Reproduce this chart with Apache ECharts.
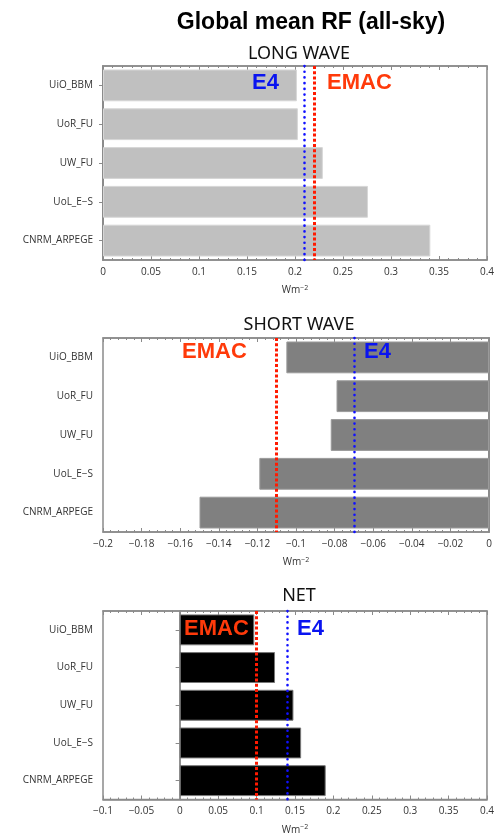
<!DOCTYPE html>
<html>
<head>
<meta charset="utf-8">
<script src="https://cdn.jsdelivr.net/npm/echarts@6/dist/echarts.min.js"></script>
<style>html,body{margin:0;padding:0;background:#fff}#c{width:497px;height:836px}</style>
</head>
<body>
<div id="c"></div>
<script>
// ---- data ----
const categories = ['UiO_BBM', 'UoR_FU', 'UW_FU', 'UoL_E\u2212S', 'CNRM_ARPEGE'];
const longWave = [0.202, 0.203, 0.229, 0.276, 0.341];
const shortWave = [-0.105, -0.079, -0.082, -0.119, -0.150];
const netRF = [0.097, 0.124, 0.148, 0.158, 0.190];
const refE4 = { lw: 0.208, sw: -0.070, net: 0.138 };
const refEMAC = { lw: 0.217, sw: -0.109, net: 0.102 };
const panelTitles = ['LONG WAVE', 'SHORT WAVE', 'NET'];
const xRanges = [[0, 0.4, 0.05], [-0.2, 0, 0.02], [-0.1, 0.4, 0.05]];
const mainTitle = 'Global mean RF (all-sky)';

const chart = echarts.init(document.getElementById('c'), null, { renderer: 'canvas' });
const gridTops = [66, 338, 611];
const gridH = 194;
const frame = '#8a8a8a';
const txt = '#333';
const tickFont = 'Open Sans';

const grids = gridTops.map(t => ({ left: 103, width: 386, top: t, height: gridH, show: true, borderColor: frame, borderWidth: 1.5, backgroundColor: '#fff' }));

const xAxes = [], yAxes = [];
xRanges.forEach((r, i) => {
  xAxes.push({
    type: 'value', gridIndex: i, min: r[0], max: r[1], interval: r[2], position: 'bottom',
    axisLine: { show: true, lineStyle: { color: frame, width: 1.5 } },
    axisTick: { show: true, inside: true, length: 4, lineStyle: { color: frame } },
    minorTick: { show: true, splitNumber: 5, length: 2, lineStyle: { color: frame } },
    splitLine: { show: false },
    axisLabel: { color: txt, fontSize: 10, fontFamily: tickFont, margin: 7,
      formatter: v => String(+v.toFixed(4)).replace('-', '\u2212') },
    name: 'Wm{s|\u22122}', nameLocation: 'middle', nameGap: 24,
    nameTextStyle: { color: txt, fontSize: 10, fontFamily: tickFont, rich: { s: { fontSize: 7, verticalAlign: 'top', padding: [0, 0, 6, 0], color: txt, fontFamily: tickFont } } }
  });
  xAxes.push({
    type: 'value', gridIndex: i, min: r[0], max: r[1], interval: r[2], position: 'top',
    axisLine: { show: true, lineStyle: { color: frame, width: 1.5 } },
    axisTick: { show: true, inside: true, length: 4, lineStyle: { color: frame } },
    minorTick: { show: true, splitNumber: 5, length: 2, lineStyle: { color: frame } },
    splitLine: { show: false }, axisLabel: { show: false }
  });
  yAxes.push({
    type: 'category', gridIndex: i, data: categories, inverse: true, position: 'left',
    axisLine: { show: true, lineStyle: { color: frame, width: 1.5 } },
    axisTick: { show: true, alignWithLabel: true, length: 4, lineStyle: { color: frame } },
    axisLabel: { color: txt, fontSize: 10, fontFamily: tickFont, margin: 10 }
  });
  yAxes.push({
    type: 'category', gridIndex: i, data: categories, inverse: true, position: 'right',
    axisLine: { show: true, lineStyle: { color: frame, width: 1.5 } },
    axisTick: { show: true, inside: true, alignWithLabel: true, length: 4, lineStyle: { color: frame } },
    axisLabel: { show: false }
  });
});

function refLines(e4, emac) {
  return {
    silent: true, symbol: 'none', label: { show: false },
    data: [
      { xAxis: emac, lineStyle: { color: '#ff1a00', width: 3, type: [3, 2.2], cap: 'butt' } },
      { xAxis: e4, lineStyle: { color: '#1010ff', width: 2.6, type: [0.1, 5.6], cap: 'round' } }
    ]
  };
}

const barColors = ['#c0c0c0', '#808080', '#000000'];
const borderColors = ['#d6d6d6', '#9a9a9a', '#777777'];
const values = [longWave, shortWave, netRF];
const refs = ['lw', 'sw', 'net'];
const series = values.map((v, i) => ({
  type: 'bar', xAxisIndex: i * 2, yAxisIndex: i * 2, data: v, barCategoryGap: '18%',
  itemStyle: { color: barColors[i], borderColor: borderColors[i], borderWidth: 1 },
  markLine: refLines(refE4[refs[i]], refEMAC[refs[i]]),
  z: 2
}));

const titles = [{ text: mainTitle, left: 306, top: 6, textAlign: 'center',
  textStyle: { fontFamily: 'Liberation Sans', fontWeight: 'bold', fontSize: 23, color: '#000' } }];
const subTops = [40, 311, 582];
panelTitles.forEach((t, i) => titles.push({ text: t, left: 294, top: subTops[i], textAlign: 'center',
  textStyle: { fontFamily: 'Noto Sans', fontWeight: 'normal', fontSize: 18, color: '#111' } }));

const lblStyle = (c) => ({ fontFamily: 'Liberation Sans', fontWeight: 'bold', fontSize: 22, fill: c });
const emacC = '#ff3a0a', e4C = '#0a14f0';
const graphic = [
  { type: 'text', left: 252, top: 72, z: 100, style: Object.assign({ text: 'E4' }, lblStyle(e4C)) },
  { type: 'text', left: 327, top: 72, z: 100, style: Object.assign({ text: 'EMAC' }, lblStyle(emacC)) },
  { type: 'text', left: 182, top: 341, z: 100, style: Object.assign({ text: 'EMAC' }, lblStyle(emacC)) },
  { type: 'text', left: 364, top: 341, z: 100, style: Object.assign({ text: 'E4' }, lblStyle(e4C)) },
  { type: 'text', left: 184, top: 618, z: 100, style: Object.assign({ text: 'EMAC' }, lblStyle(emacC)) },
  { type: 'text', left: 297, top: 618, z: 100, style: Object.assign({ text: 'E4' }, lblStyle(e4C)) }
];

chart.setOption({
  animation: false,
  backgroundColor: '#fff',
  title: titles,
  grid: grids,
  xAxis: xAxes,
  yAxis: yAxes,
  series: series,
  graphic: graphic
});
</script>
</body>
</html>
